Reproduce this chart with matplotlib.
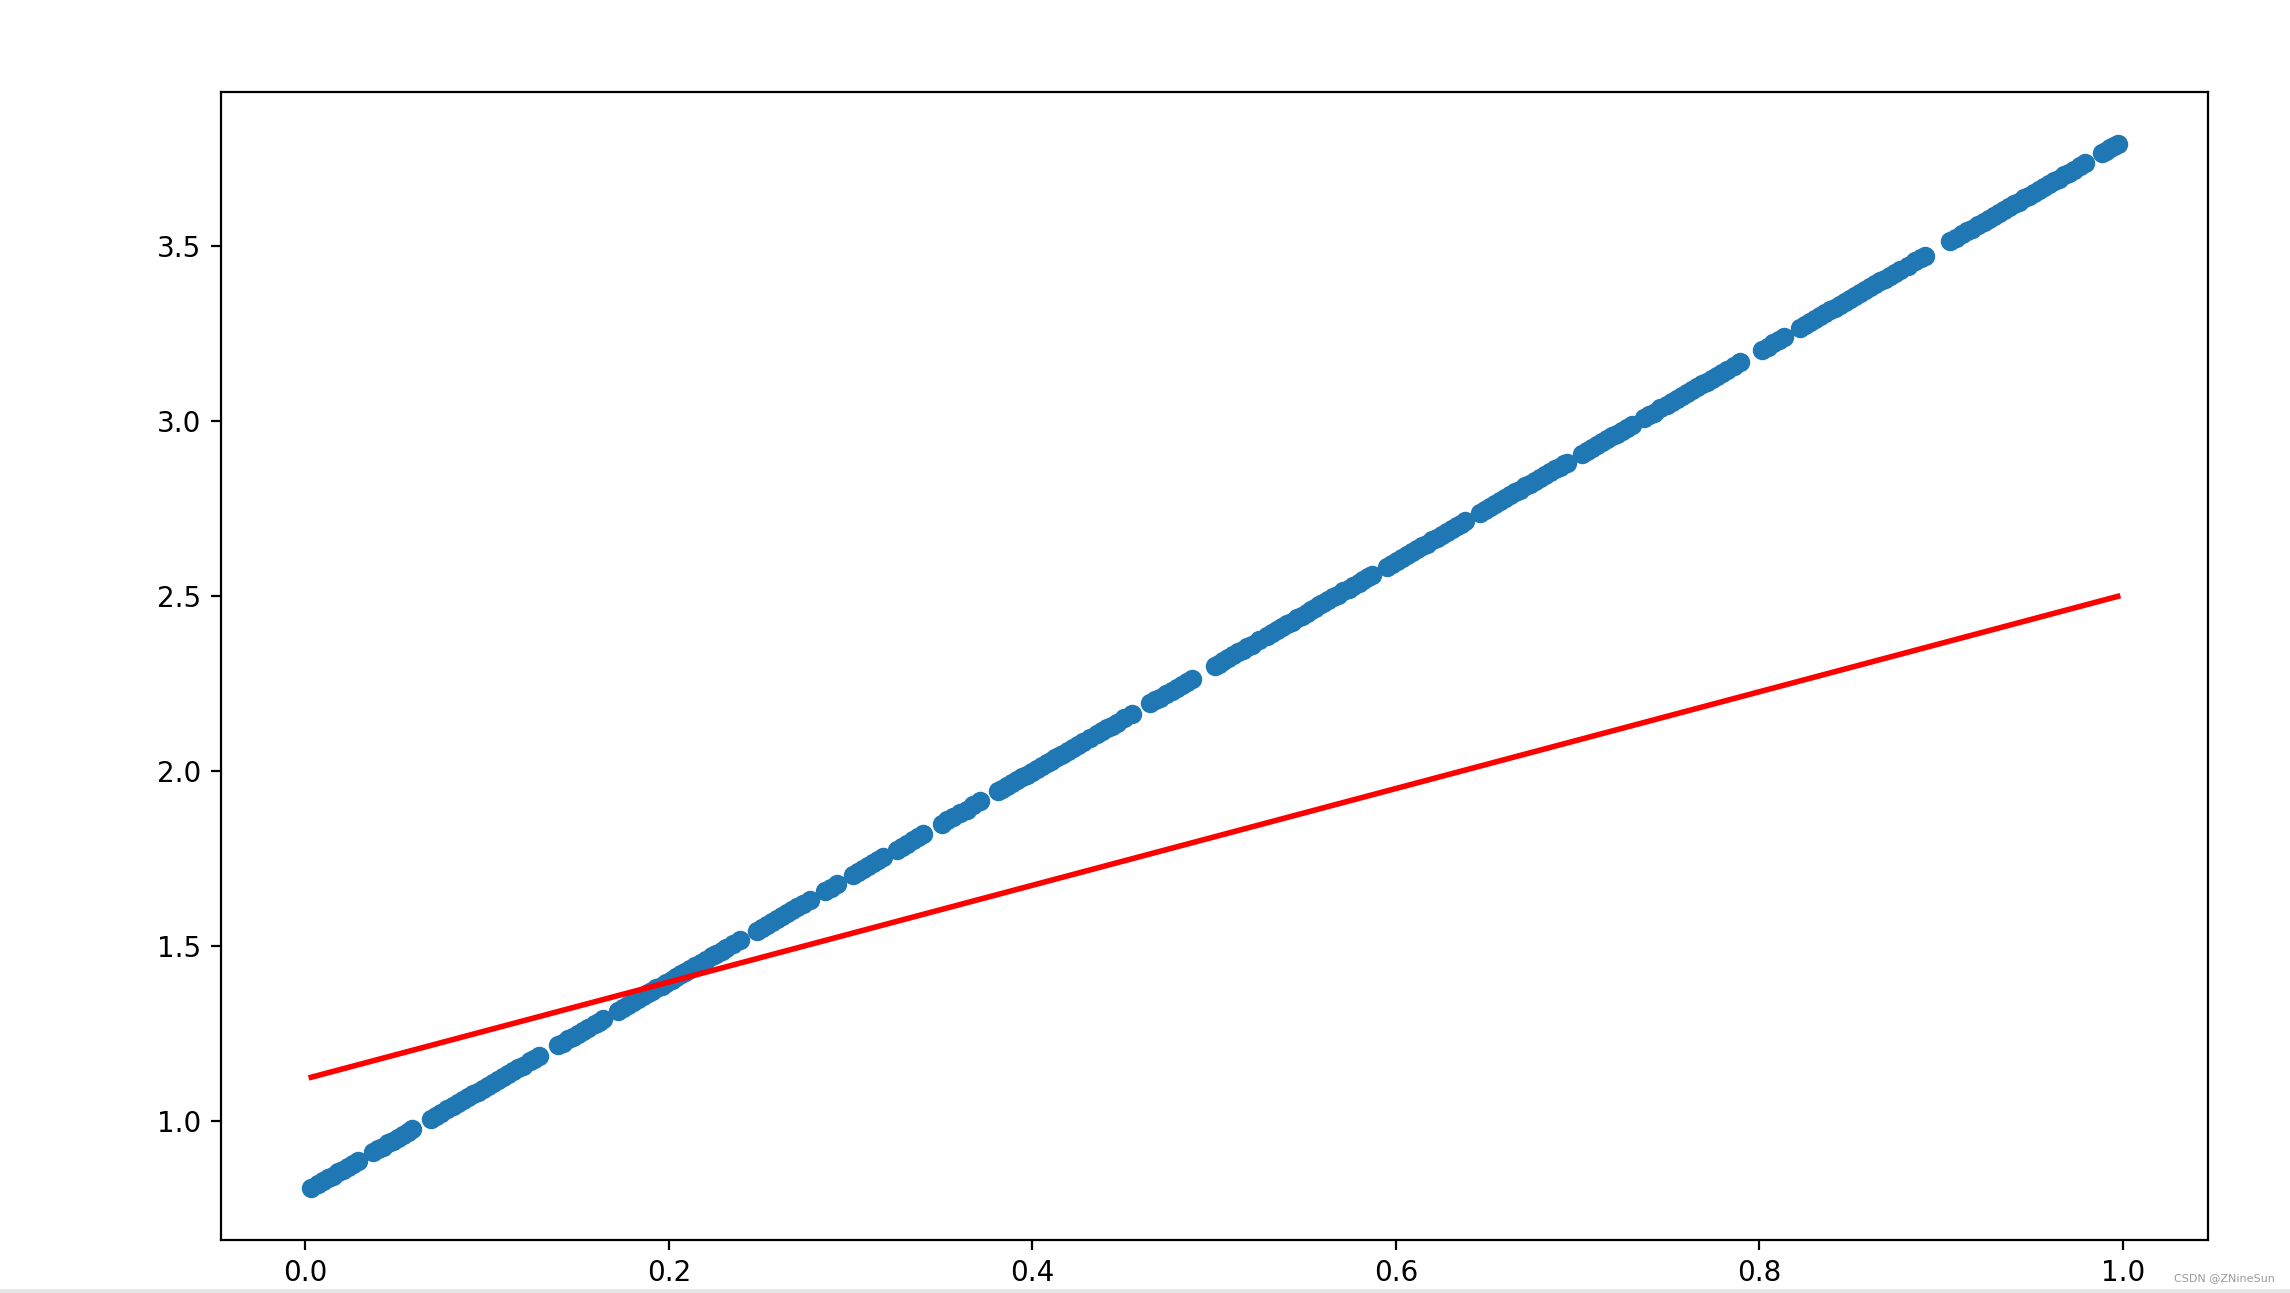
import matplotlib
matplotlib.use("Agg")
import matplotlib.pyplot as plt
import matplotlib.patches as patches

# scatter data (one line per unbroken run of dots)
x_data = [0.0033, 0.0069, 0.0098, 0.0124, 0.0151, 0.0179, 0.0206, 0.0234, 0.0262, 0.0290,
          0.0372, 0.0399, 0.0427, 0.0455, 0.0482, 0.0510, 0.0537, 0.0563, 0.0589,
          0.0694, 0.0721, 0.0749, 0.0781, 0.0812, 0.0840, 0.0868, 0.0895, 0.0923, 0.0951, 0.0978,
          0.1006, 0.1033, 0.1061, 0.1088, 0.1116, 0.1143, 0.1171, 0.1198, 0.1235, 0.1260, 0.1286,
          0.1390, 0.1418, 0.1445, 0.1473, 0.1501, 0.1528, 0.1556, 0.1592, 0.1615, 0.1638,
          0.1721, 0.1749, 0.1776, 0.1804, 0.1831, 0.1859, 0.1886, 0.1909, 0.1932, 0.1960, 0.1987,
          0.2015, 0.2042, 0.2065, 0.2088, 0.2115, 0.2143, 0.2175, 0.2207, 0.2235, 0.2262, 0.2290,
          0.2317, 0.2354, 0.2391,
          0.2483, 0.2511, 0.2538, 0.2566, 0.2593, 0.2621, 0.2648, 0.2676, 0.2703, 0.2740, 0.2776,
          0.2859, 0.2891, 0.2923,
          0.3014, 0.3042, 0.3069, 0.3097, 0.3124, 0.3152, 0.3179,
          0.3253, 0.3281, 0.3308, 0.3345, 0.3372, 0.3400,
          0.3501, 0.3533, 0.3565, 0.3602, 0.3638, 0.3675, 0.3712,
          0.3812, 0.3836, 0.3859, 0.3887, 0.3914, 0.3942, 0.3969, 0.3997, 0.4024, 0.4052, 0.4079,
          0.4102, 0.4125, 0.4148, 0.4170, 0.4198, 0.4225, 0.4253, 0.4280, 0.4317, 0.4354, 0.4382,
          0.4409, 0.4437, 0.4464, 0.4505, 0.4547,
          0.4647, 0.4675, 0.4703, 0.4735, 0.4767, 0.4795, 0.4822, 0.4850, 0.4877,
          0.5005, 0.5028, 0.5051, 0.5079, 0.5106, 0.5134, 0.5161, 0.5184, 0.5207, 0.5249, 0.5290,
          0.5318, 0.5345, 0.5373, 0.5400, 0.5428, 0.5455, 0.5483, 0.5510, 0.5533, 0.5556, 0.5579,
          0.5601, 0.5629, 0.5656, 0.5684, 0.5712, 0.5740, 0.5767, 0.5795, 0.5822, 0.5845, 0.5868,
          0.5950, 0.5978, 0.6005, 0.6033, 0.6061, 0.6089, 0.6116, 0.6144, 0.6171, 0.6199, 0.6226,
          0.6254, 0.6281, 0.6309, 0.6336, 0.6359, 0.6381,
          0.6464, 0.6492, 0.6519, 0.6547, 0.6574, 0.6602, 0.6629, 0.6657, 0.6684, 0.6712, 0.6739,
          0.6767, 0.6794, 0.6822, 0.6849, 0.6877, 0.6904, 0.6923, 0.6941,
          0.7024, 0.7052, 0.7079, 0.7107, 0.7134, 0.7162, 0.7189, 0.7217, 0.7244, 0.7272, 0.7299,
          0.7363, 0.7391, 0.7418, 0.7455, 0.7492, 0.7520, 0.7547, 0.7575, 0.7602, 0.7630, 0.7657,
          0.7685, 0.7712, 0.7740, 0.7767, 0.7795, 0.7822, 0.7859, 0.7895,
          0.8015, 0.8047, 0.8078, 0.8106, 0.8134,
          0.8225, 0.8253, 0.8280, 0.8308, 0.8335, 0.8363, 0.8390, 0.8418, 0.8445, 0.8473, 0.8500,
          0.8528, 0.8556, 0.8584, 0.8611, 0.8639, 0.8666, 0.8694, 0.8721, 0.8749, 0.8776, 0.8818,
          0.8859, 0.8887, 0.8914,
          0.9051, 0.9084, 0.9116, 0.9144, 0.9171, 0.9203, 0.9234, 0.9262, 0.9289, 0.9317, 0.9344,
          0.9372, 0.9400, 0.9428, 0.9455, 0.9483, 0.9510, 0.9538, 0.9565, 0.9593, 0.9620, 0.9648,
          0.9675, 0.9703, 0.9730, 0.9762, 0.9794,
          0.9886, 0.9909, 0.9932, 0.9952, 0.9972]

y_data = [0.810, 0.821, 0.829, 0.837, 0.845, 0.854, 0.862, 0.870, 0.879, 0.887,
          0.912, 0.920, 0.928, 0.937, 0.945, 0.953, 0.961, 0.969, 0.977,
          1.008, 1.016, 1.025, 1.034, 1.044, 1.052, 1.060, 1.069, 1.077, 1.085, 1.093,
          1.102, 1.110, 1.118, 1.126, 1.135, 1.143, 1.151, 1.159, 1.171, 1.178, 1.186,
          1.217, 1.225, 1.234, 1.242, 1.250, 1.258, 1.267, 1.278, 1.285, 1.291,
          1.316, 1.325, 1.333, 1.341, 1.349, 1.358, 1.366, 1.373, 1.380, 1.388, 1.396,
          1.405, 1.413, 1.420, 1.426, 1.435, 1.443, 1.453, 1.462, 1.471, 1.479, 1.487,
          1.495, 1.506, 1.517,
          1.545, 1.553, 1.561, 1.570, 1.578, 1.586, 1.594, 1.603, 1.611, 1.622, 1.633,
          1.658, 1.667, 1.677,
          1.704, 1.713, 1.721, 1.729, 1.737, 1.746, 1.754,
          1.776, 1.784, 1.792, 1.804, 1.812, 1.820,
          1.850, 1.860, 1.870, 1.881, 1.891, 1.903, 1.914,
          1.944, 1.951, 1.958, 1.966, 1.974, 1.983, 1.991, 1.999, 2.007, 2.016, 2.024,
          2.031, 2.038, 2.044, 2.051, 2.059, 2.068, 2.076, 2.084, 2.095, 2.106, 2.115,
          2.123, 2.131, 2.139, 2.152, 2.164,
          2.194, 2.203, 2.211, 2.221, 2.230, 2.239, 2.247, 2.255, 2.263,
          2.302, 2.308, 2.315, 2.324, 2.332, 2.340, 2.348, 2.355, 2.362, 2.375, 2.387,
          2.395, 2.404, 2.412, 2.420, 2.428, 2.437, 2.445, 2.453, 2.460, 2.467, 2.474,
          2.480, 2.489, 2.497, 2.505, 2.514, 2.522, 2.530, 2.539, 2.547, 2.554, 2.560,
          2.585, 2.593, 2.602, 2.610, 2.618, 2.627, 2.635, 2.643, 2.651, 2.660, 2.668,
          2.676, 2.684, 2.693, 2.701, 2.708, 2.714,
          2.739, 2.748, 2.756, 2.764, 2.772, 2.781, 2.789, 2.797, 2.805, 2.814, 2.822,
          2.830, 2.838, 2.847, 2.855, 2.863, 2.871, 2.877, 2.882,
          2.907, 2.916, 2.924, 2.932, 2.940, 2.949, 2.957, 2.965, 2.973, 2.982, 2.990,
          3.009, 3.017, 3.025, 3.037, 3.048, 3.056, 3.064, 3.073, 3.081, 3.089, 3.097,
          3.106, 3.114, 3.122, 3.130, 3.139, 3.147, 3.158, 3.169,
          3.205, 3.214, 3.223, 3.232, 3.240,
          3.268, 3.276, 3.284, 3.292, 3.301, 3.309, 3.317, 3.325, 3.334, 3.342, 3.350,
          3.358, 3.367, 3.375, 3.383, 3.392, 3.400, 3.408, 3.416, 3.425, 3.433, 3.445,
          3.458, 3.466, 3.474,
          3.515, 3.525, 3.535, 3.543, 3.551, 3.561, 3.570, 3.579, 3.587, 3.595, 3.603,
          3.612, 3.620, 3.628, 3.637, 3.645, 3.653, 3.661, 3.670, 3.678, 3.686, 3.694,
          3.703, 3.711, 3.719, 3.729, 3.738,
          3.766, 3.773, 3.780, 3.786, 3.792]

# fitted (red) line end points
line_x = [0.0033, 0.9972]
line_y = [1.126, 2.500]

fig = plt.figure(figsize=(11.45, 6.465), dpi=200)
ax = fig.add_axes([0.0965, 0.0410, 0.8677, 0.8878])

ax.scatter(x_data, y_data)
ax.plot(line_x, line_y, color="red", linewidth=2)

# light grey strip at the very bottom of the screenshot
fig.patches.append(patches.Rectangle((0, 0), 1, 0.0025, transform=fig.transFigure,
                                     color="#e6e6e6", zorder=0))

# watermark
fig.text(0.9935, 0.0115, "CSDN @ZNineSun", ha="right", va="center",
         fontsize=4, color="#9a9a9a")

fig.savefig("out.png", dpi=200)
